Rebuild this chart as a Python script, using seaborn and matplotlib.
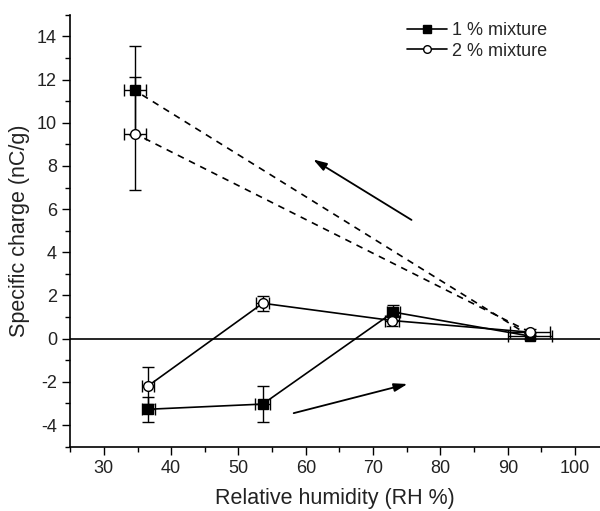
import pandas as pd
import matplotlib
matplotlib.use("Agg")
import matplotlib.pyplot as plt
from matplotlib.lines import Line2D
from matplotlib.ticker import MultipleLocator
import seaborn as sns

# Relative humidity cycle: 36 -> 53 -> 73 -> 93 % and back down to 34 %
rh_1 = [36.6, 53.6, 73.0, 93.3, 34.6]
q_1 = [-3.27, -3.03, 1.23, 0.12, 11.5]
q_1_err = [0.58, 0.83, 0.35, 0.15, 2.05]
rh_1_err = [1.0, 1.1, 1.0, 3.2, 1.6]

rh_2 = [36.6, 53.6, 72.8, 93.3, 34.6]
q_2 = [-2.18, 1.64, 0.84, 0.30, 9.5]
q_2_err = [0.85, 0.35, 0.25, 0.15, 2.6]
rh_2_err = [0.9, 1.0, 1.0, 3.0, 1.6]

series_labels = ["1 % mixture", "2 % mixture"]

# direction arrows (tail -> head, data coords)
arrow_up = [(75.7, 5.5), (61.1, 8.3)]
arrow_down = [(58.2, -3.45), (75.1, -2.1)]


def main():
    sns.set_style("ticks")
    plt.rcParams['font.family'] = ['Liberation Sans', 'DejaVu Sans']
    plt.rcParams['axes.unicode_minus'] = False

    fig = plt.figure(figsize=(6.0, 5.11), dpi=100)
    ax = fig.add_axes([0.117, 0.126, 0.883, 0.845])

    df1 = pd.DataFrame({"rh": rh_1, "q": q_1})
    df2 = pd.DataFrame({"rh": rh_2, "q": q_2})

    # solid lines: humidity going up, dashed: the final drop back to dry
    for df in (df1, df2):
        sns.lineplot(data=df.iloc[:4], x="rh", y="q", sort=False, color="black",
                     lw=1.2, ax=ax, legend=False)
        sns.lineplot(data=df.iloc[3:], x="rh", y="q", sort=False, color="black",
                     lw=1.2, linestyle=(0, (4, 3.5)), ax=ax, legend=False)

    err_kw = dict(fmt="none", ecolor="black", elinewidth=1.0, capsize=4,
                  capthick=1.0, zorder=3)
    ax.errorbar(rh_1, q_1, yerr=q_1_err, xerr=rh_1_err, **err_kw)
    ax.errorbar(rh_2, q_2, yerr=q_2_err, xerr=rh_2_err, **err_kw)

    ax.plot(rh_1, q_1, ls="none", marker="s", ms=6.5, mfc="black",
            mec="black", zorder=4)
    ax.plot(rh_2, q_2, ls="none", marker="o", ms=7, mfc="white",
            mec="black", mew=1.0, zorder=4)

    ax.axhline(0, color="black", lw=1.2, zorder=1)

    for tail, head in (arrow_up, arrow_down):
        ax.annotate("", xy=head, xytext=tail,
                    arrowprops=dict(arrowstyle="-|>,head_length=0.8,head_width=0.25",
                                    color="black", lw=1.3, shrinkA=0, shrinkB=0))

    ax.set_xlim(25, 103.7)
    ax.set_ylim(-5, 15)
    ax.xaxis.set_major_locator(MultipleLocator(10))
    ax.xaxis.set_minor_locator(MultipleLocator(5))
    ax.yaxis.set_major_locator(MultipleLocator(2))
    ax.yaxis.set_minor_locator(MultipleLocator(1))
    ax.set_xticks(range(30, 101, 10))
    ax.set_yticks(range(-4, 15, 2))
    ax.tick_params(which="major", length=6, width=1.0, labelsize=13,
                   color="black", labelcolor="#222222")
    ax.tick_params(which="minor", length=3.5, width=1.0, color="black")

    ax.set_xlabel("Relative humidity (RH %)", fontsize=15.5, color="#222222",
                  labelpad=8)
    ax.set_ylabel("Specific charge (nC/g)", fontsize=15.5, color="#222222",
                  labelpad=5)

    sns.despine(ax=ax)
    for side in ("left", "bottom"):
        ax.spines[side].set_linewidth(1.2)
        ax.spines[side].set_color("black")

    handles = [
        Line2D([], [], color="black", lw=1.2, marker="s", ms=5.5, mfc="black"),
        Line2D([], [], color="black", lw=1.2, marker="o", ms=5.5, mfc="white"),
    ]
    ax.legend(handles, series_labels, loc="upper left", frameon=False,
              fontsize=13, handlelength=2.2, handletextpad=0.3,
              labelspacing=0.2, borderpad=0, borderaxespad=0,
              bbox_to_anchor=(0.636, 0.983))

    fig.savefig("out.png", dpi=100)
    plt.close(fig)


if __name__ == '__main__':
    main()
